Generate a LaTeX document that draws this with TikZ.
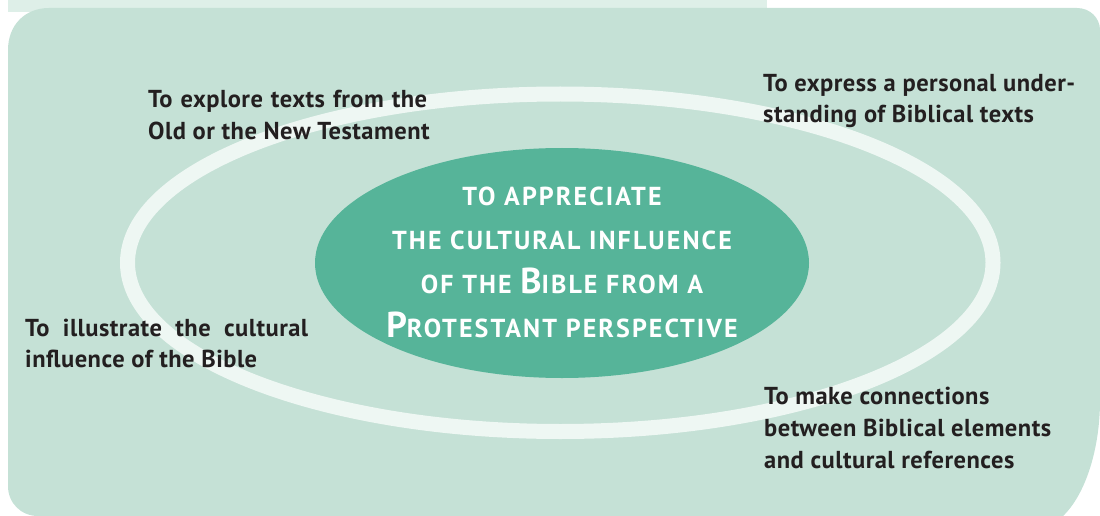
\documentclass[tikz,border=0pt]{standalone}
\usepackage{fontspec}
\setmainfont{PT Sans}
\newfontfamily\bodyfont[LetterSpace=2]{PT Sans}
\newfontfamily\capsfont[LetterSpace=8]{PT Sans}
\usetikzlibrary{shapes.geometric}
\definecolor{bgc}{HTML}{C5E1D6}
\definecolor{tabc}{HTML}{DEEFE8}
\definecolor{ringc}{HTML}{EEF7F3}
\definecolor{corec}{HTML}{56B499}
\definecolor{txtc}{HTML}{231F20}
\newcommand\capS[1]{{\fontsize{26}{44.3}\selectfont #1}}
\newcommand\capL[1]{{\fontsize{36}{44.3}\selectfont #1}}
\tikzset{
  lbl/.style={anchor=base west, inner sep=0pt, text=txtc, font=\bodyfont\bfseries\fontsize{24.5}{32}\selectfont},
  corebox/.style={ellipse, fill=corec, inner sep=0pt, minimum width=494pt, minimum height=230pt},
  titlebox/.style={anchor=base, inner sep=0pt, text=white, font=\capsfont\bfseries\fontsize{26}{44.3}\selectfont}
}
\begin{document}
\begin{tikzpicture}[x=1pt,y=-1pt]
\useasboundingbox (0,0) rectangle (1100,516);
\fill[tabc] (8,0) rectangle (767,12);
\fill[bgc] (8,50) .. controls (8,25) and (25,8) .. (49,8) -- (1077,8)
  .. controls (1090,8) and (1100,18) .. (1100,30) -- (1100,400)
  .. controls (1100,450) and (1085,495) .. (1063,516) -- (38,516)
  .. controls (21,516) and (8,503) .. (8,486) -- cycle;
\draw[ringc, line width=15pt] (560.25,262.75) ellipse [x radius=432.75pt, y radius=168.75pt];
\node[corebox] (core) at (562,263) {};
\node[titlebox] (title) at (562,205) {\begin{tabular}[t]{@{}c@{}}
\capS{TO APPRECIATE}\\
\capS{THE CULTURAL INFLUENCE}\\
\capS{OF THE }\capL{B}\capS{IBLE FROM A}\\
\capL{P}\capS{ROTESTANT PERSPECTIVE}
\end{tabular}};
\node[lbl] (explore) at (148,107.5) {\begin{tabular}[t]{@{}l@{}}\makebox[279pt][s]{To explore texts from the}\\ Old or the New Testament\end{tabular}};
\node[lbl, font=\bodyfont\bfseries\fontsize{24.5}{31.5}\selectfont] (express) at (763,91.5) {\begin{tabular}[t]{@{}l@{}}To express a personal under-\\ standing of Biblical texts\end{tabular}};
\node[lbl, font=\bodyfont\bfseries\fontsize{24.5}{31}\selectfont] (illustrate) at (25,336.5) {\begin{tabular}[t]{@{}l@{}}\makebox[283pt][s]{To illustrate the cultural}\\ influence of the Bible\end{tabular}};
\node[lbl] (connect) at (764,404.5) {\begin{tabular}[t]{@{}l@{}}To make connections\\ between Biblical elements\\ and cultural references\end{tabular}};
\end{tikzpicture}
\end{document}
